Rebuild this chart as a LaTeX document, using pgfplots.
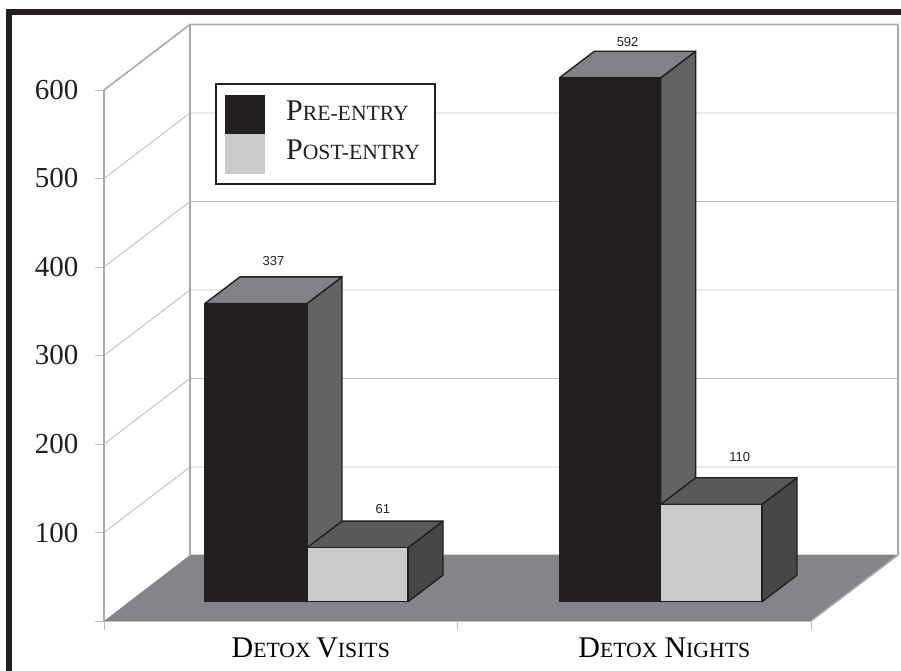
\documentclass[border=0pt]{standalone}
\usepackage{fontspec}
\setmainfont{Liberation Serif}
\newfontfamily\sanslab{Liberation Sans}
\usepackage{pgfplots}
\pgfplotsset{compat=1.18}
\definecolor{ink}{HTML}{231F20}
\definecolor{wall}{HTML}{A7A9AC}
\definecolor{gridc}{HTML}{BCBEC0}
\definecolor{floorc}{HTML}{848589}
\definecolor{preside}{HTML}{626365}
\definecolor{pretop}{HTML}{808285}
\definecolor{postfront}{HTML}{C9CACC}
\definecolor{posttop}{HTML}{58595B}
\definecolor{postside}{HTML}{464748}
\newcommand{\SC}[2]{{\fontsize{30}{30}\selectfont #1}{\fontsize{21.7}{21.7}\selectfont #2}}
\pgfplotsset{
  face/.style={forget plot, draw=ink, line width=1.4pt, line join=round, yshift=19.3pt},
  gl/.style={forget plot, draw=gridc, line width=0.9pt},
  wl/.style={forget plot, draw=wall, line width=1.6pt},
  lab/.style={forget plot, draw=none, mark=none, nodes near coords,
    point meta=y,
    /pgf/number format/assume math mode=true,
    nodes near coords style={font=\fontsize{13}{13}\sanslab, text=ink, anchor=center, yshift=#1}},
  swatch/.style={legend image code/.code={\path[fill=#1, draw=none] (0pt,-23.25pt) rectangle (40pt,16.25pt);}},
}
\begin{document}
\begin{tikzpicture}
\useasboundingbox (-104pt,-50pt) rectangle (797pt,621pt);
\begin{axis}[
  at={(0pt,0pt)}, anchor=south west,
  scale only axis, width=707pt, height=531pt,
  xmin=0, xmax=2, ymin=0, ymax=600,
  clip=false,
  axis lines*=left,
  axis line style={-, draw=wall, line width=1.2pt},
  xtick={0,1,2}, xticklabels={,,},
  extra x ticks={0.5,1.5},
  extra x tick labels={\SC{D}{ETOX}\hspace{5.5pt}\SC{V}{ISITS},\SC{D}{ETOX}\hspace{7pt}\SC{N}{IGHTS}},
  extra x tick style={major tick length=0pt,
    xticklabel style={xshift=30pt, anchor=base, yshift=-36pt}},
  ytick={0,100,200,300,400,500,600},
  yticklabels={,100,200,300,400,500,600},
  tick align=outside,
  major tick length=9pt,
  tick style={draw=gridc, line width=0.9pt},
  yticklabel style={font=\fontsize{29}{29}\selectfont, text=ink, anchor=east, xshift=-13pt},
  legend style={
    at={(axis description cs:0.1563,1.0132)}, anchor=north west,
    draw=ink, line width=2.4pt, fill=white,
    inner xsep=9pt, inner ysep=10.5pt,
    column sep=15.4pt, row sep=0pt,
    cells={anchor=base west},
    nodes={inner xsep=6pt, inner ysep=0pt, text=ink},
  },
  legend cell align=left,
]
\addlegendimage{swatch=ink}
\addlegendentry{\SC{P}{RE-ENTRY}}
\addlegendimage{swatch=postfront}
\addlegendentry{\SC{P}{OST-ENTRY}}

% floor
\addplot[forget plot, fill=floorc, draw=none] coordinates {(0,0)(2,0)(2.2433,74.6)(0.2433,74.6)} --cycle;
% left wall grid
\addplot[gl] coordinates {(0,100)(0.2433,174)(2.246,174)};
\addplot[gl] coordinates {(0,200)(0.2433,274)(2.246,274)};
\addplot[gl] coordinates {(0,300)(0.2433,374)(2.246,374)};
\addplot[gl] coordinates {(0,400)(0.2433,474)(2.246,474)};
\addplot[gl] coordinates {(0,500)(0.2433,574)(2.246,574)};
% walls
\addplot[wl] coordinates {(0,600)(0.2433,674)(2.246,674)(2.246,74.6)(2,0)};
\addplot[wl] coordinates {(0.2433,674)(0.2433,74.6)};
\addplot[wl, draw=white!85!black, line width=1pt] coordinates {(0.2433,74.6)(2.246,74.6)};
\addplot[wl, draw=white!75!black, line width=1pt] coordinates {(0,0)(2,0)};

% Detox Visits, pre-entry 337
\addplot[face, fill=preside] coordinates {(0.5743,0)(0.6733,30)(0.6733,367)(0.5743,337)} --cycle;
\addplot[face, fill=pretop] coordinates {(0.2857,337)(0.5743,337)(0.6733,367)(0.3847,367)} --cycle;
\addplot[face, fill=ink] coordinates {(0.2857,0)(0.2857,337)(0.5743,337)(0.5743,0)} --cycle;
% Detox Visits, post-entry 61
\addplot[face, fill=postside] coordinates {(0.86,0)(0.959,30)(0.959,91)(0.86,61)} --cycle;
\addplot[face, fill=posttop] coordinates {(0.5743,61)(0.86,61)(0.959,91)(0.6733,91)} --cycle;
\addplot[face, fill=postfront] coordinates {(0.5743,0)(0.5743,61)(0.86,61)(0.86,0)} --cycle;
% Detox Nights, pre-entry 592
\addplot[face, fill=preside] coordinates {(1.5748,0)(1.6738,30)(1.6738,622)(1.5748,592)} --cycle;
\addplot[face, fill=pretop] coordinates {(1.2885,592)(1.5748,592)(1.6738,622)(1.3875,622)} --cycle;
\addplot[face, fill=ink] coordinates {(1.2885,0)(1.2885,592)(1.5748,592)(1.5748,0)} --cycle;
% Detox Nights, post-entry 110
\addplot[face, fill=postside] coordinates {(1.8614,0)(1.9604,30)(1.9604,140)(1.8614,110)} --cycle;
\addplot[face, fill=posttop] coordinates {(1.5748,110)(1.8614,110)(1.9604,140)(1.6738,140)} --cycle;
\addplot[face, fill=postfront] coordinates {(1.5748,0)(1.5748,110)(1.8614,110)(1.8614,0)} --cycle;

% value labels
\addplot[lab=62pt] coordinates {(0.4795,337)};
\addplot[lab=58pt] coordinates {(0.7886,61)};
\addplot[lab=55pt] coordinates {(1.4812,592)};
\addplot[lab=67pt] coordinates {(1.7986,110)};
\end{axis}
\draw[ink, line width=5.5pt] (-95pt,-50pt) -- (-95pt,609pt) -- (797pt,609pt);
\end{tikzpicture}
\end{document}
